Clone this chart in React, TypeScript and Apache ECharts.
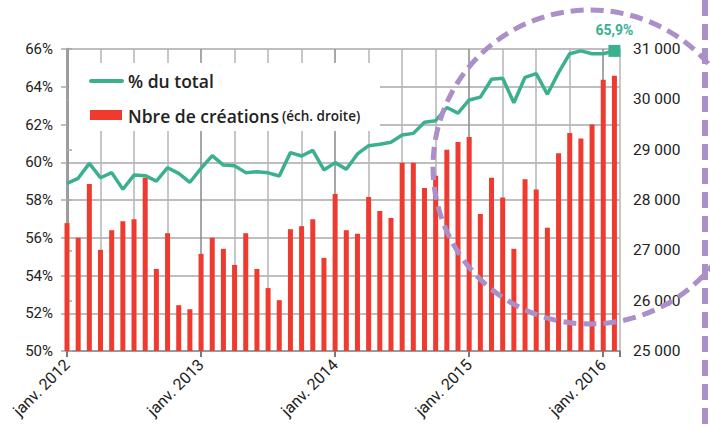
import React, { useEffect, useRef } from 'react';
import * as echarts from 'echarts';

// x index 0 = janv. 2012 ... 49 = févr. 2016
const yearLabels = ['janv. 2012', 'janv. 2013', 'janv. 2014', 'janv. 2015', 'janv. 2016'];

// Nombre de créations (échelle droite)
const creations = [
  27540, 27250, 28320, 27010, 27400, 27580, 27620, 28440, 26630, 27340, 25910, 25830,
  26930, 27250, 27030, 26710, 27340, 26630, 26250, 26010, 27420, 27480, 27620, 26850,
  28120, 27400, 27330, 28060, 27780, 27640, 28740, 28740, 28240, 28480, 29000, 29150,
  29250, 27720, 28440, 28050, 27030, 28410, 28210, 27450, 28930, 29330, 29220, 29500,
  30390, 30470,
];

// % du total
const shareTotal = [
  58.88, 59.15, 59.94, 59.18, 59.45, 58.57, 59.32, 59.29, 59.0, 59.71, 59.41, 58.94,
  59.68, 60.35, 59.85, 59.82, 59.45, 59.5, 59.44, 59.27, 60.51, 60.33, 60.63, 59.59,
  59.98, 59.63, 60.44, 60.88, 60.95, 61.06, 61.44, 61.53, 62.12, 62.2, 62.9, 62.6,
  63.3, 63.45, 64.4, 64.45, 63.15, 64.5, 64.7, 63.6, 64.75, 65.75, 65.9, 65.75,
  65.75, 65.9,
];

const lastLabel = '65,9%';
const legendLine = '% du total';
const legendBar = 'Nbre de créations';
const legendBarNote = '(éch. droite)';

export default function App() {
  const ref = useRef<HTMLDivElement>(null);
  useEffect(() => {
    const chart = echarts.init(ref.current!, null, { renderer: 'svg' });
    const font = 'Roboto, "Noto Sans", sans-serif';
    const legendFont = '"Open Sans", Roboto, sans-serif';
    const teal = '#3bb08f';
    const red = '#ee3a2f';
    const purple = '#ab8fc8';
    const gridC = '#a8a8a8';
    const n = creations.length;
    const lineData: any[] = shareTotal.map((v, i) => [i, v]);
    lineData[n - 1] = {
      value: [n - 1, shareTotal[n - 1]],
      symbol: 'rect',
      symbolSize: 12,
      itemStyle: { color: teal },
      label: {
        show: true,
        position: 'top',
        distance: 8,
        formatter: lastLabel,
        color: teal,
        fontSize: 14,
        fontWeight: 'bold',
        fontFamily: font,
      },
    };
    chart.setOption({
      animation: false,
      grid: { left: 67, right: 90, top: 49, bottom: 76 },
      xAxis: [
        {
          type: 'value',
          min: 0,
          max: 49.5,
          interval: 3,
          axisLine: { show: true, lineStyle: { color: '#8f8f8f', width: 1.5 } },
          axisTick: { show: false },
          axisLabel: { show: false },
          splitLine: {
            show: true,
            lineStyle: { color: ['#8a8a8a', '#b5b5b5', '#b5b5b5', '#b5b5b5'], width: 1.5 },
          },
        },
        {
          type: 'value',
          min: 0,
          max: 49.5,
          interval: 12,
          position: 'bottom',
          axisLine: { show: false },
          axisTick: { show: true, length: 6, lineStyle: { color: '#7a7a7a', width: 2 } },
          axisLabel: {
            rotate: 45,
            fontSize: 16,
            color: '#222',
            fontFamily: font,
            margin: 11,
            formatter: (v: number) => (v % 12 === 0 ? yearLabels[v / 12] ?? '' : ''),
          },
          splitLine: { show: false },
        },
      ],
      yAxis: [
        {
          type: 'value',
          min: 50,
          max: 66,
          interval: 2,
          position: 'left',
          axisLine: { show: true, lineStyle: { color: '#7a7a7a', width: 2.5 } },
          axisTick: { show: true, length: 6, lineStyle: { color: gridC, width: 1.5 } },
          axisLabel: {
            formatter: '{value}%',
            fontSize: 15,
            color: '#222',
            fontFamily: font,
            margin: 14,
          },
          splitLine: { show: true, lineStyle: { color: gridC, width: 1.5 } },
        },
        {
          type: 'value',
          min: 25000,
          max: 31000,
          interval: 1000,
          position: 'right',
          axisLine: { show: true, lineStyle: { color: gridC, width: 1.5 } },
          axisTick: { show: true, length: 5, lineStyle: { color: gridC, width: 1.5 } },
          axisLabel: {
            formatter: (v: number) => String(v).replace(/\B(?=(\d{3})+(?!\d))/g, ' '),
            fontSize: 15.5,
            color: '#222',
            fontFamily: font,
            margin: 13,
          },
          splitLine: { show: false },
        },
      ],
      series: [
        {
          type: 'bar',
          name: legendBar,
          xAxisIndex: 0,
          yAxisIndex: 1,
          data: creations.map((v, i) => [i, v]),
          barWidth: 5,
          itemStyle: { color: red },
          z: 2,
        },
        {
          type: 'line',
          name: legendLine,
          xAxisIndex: 0,
          yAxisIndex: 0,
          data: lineData,
          symbol: 'none',
          lineStyle: { color: teal, width: 3.5 },
          itemStyle: { color: teal },
          z: 3,
        },
      ],
      graphic: [
        {
          type: 'rect',
          z: 50,
          shape: { x: 69, y: 63, width: 311, height: 68 },
          style: { fill: '#fff' },
        },
        {
          type: 'line',
          z: 51,
          shape: { x1: 91, y1: 81, x2: 122, y2: 81 },
          style: { stroke: teal, lineWidth: 4, lineCap: 'round' },
        },
        {
          type: 'text',
          z: 51,
          x: 128,
          y: 81,
          style: {
            text: legendLine,
            fontSize: 17.5,
            fontWeight: 600,
            fontFamily: legendFont,
            fill: '#222',
            verticalAlign: 'middle',
          },
        },
        {
          type: 'rect',
          z: 51,
          shape: { x: 90, y: 110, width: 32, height: 10 },
          style: { fill: red },
        },
        {
          type: 'text',
          z: 51,
          x: 128,
          y: 116,
          style: {
            text: '{a|' + legendBar + '} {b|' + legendBarNote + '}',
            fontFamily: legendFont,
            fill: '#222',
            verticalAlign: 'middle',
            rich: {
              a: { fontSize: 17.5, fontWeight: 600, fontFamily: legendFont, fill: '#222' },
              b: { fontSize: 13.5, fontWeight: 600, fontFamily: legendFont, fill: '#222' },
            },
          },
        },
        {
          type: 'circle',
          z: 60,
          shape: { cx: 590, cy: 167, r: 157 },
          style: { fill: 'none', stroke: purple, lineWidth: 5, lineDash: [13, 7] },
        },
        {
          type: 'line',
          z: 60,
          shape: { x1: 705, y1: 0, x2: 705, y2: 427 },
          style: { stroke: purple, lineWidth: 6, lineDash: [16, 8] },
        },
      ],
    });
    return () => chart.dispose();
  }, []);
  return (
    <div
      ref={ref}
      style={{ position: 'fixed', left: 0, top: 0, width: 710, height: 427, background: '#fff' }}
    />
  );
}
